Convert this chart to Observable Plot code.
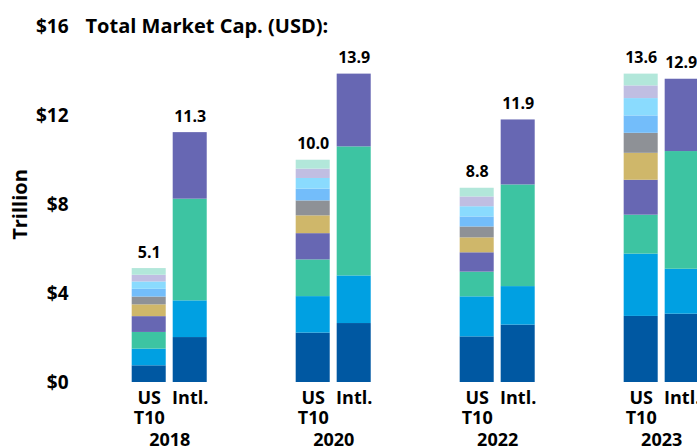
<!DOCTYPE html>
<html><head><meta charset="utf-8">
<script src="https://cdn.jsdelivr.net/npm/d3@7"></script>
<script src="https://cdn.jsdelivr.net/npm/@observablehq/plot@0.6"></script>
<style>html,body{margin:0;padding:0;background:#fff;overflow:hidden}</style>
</head><body><div id="chart"></div>
<script>
// ---- data ----
const years = ["2018", "2020", "2022", "2023"];
const barTypes = ["US T10", "Intl."];
const barTypeLabels = ["US\nT10", "Intl."];
const segments = ["S1", "S2", "S3", "S4", "S5", "S6", "S7", "S8", "S9", "S10"];
const segmentColors = ["#0058A2", "#00A0E2", "#3DC4A2", "#6767B3", "#CFB76A", "#8E9196", "#73BDFA", "#8ADBFE", "#C0BEE2", "#B2E7DA"];

// US top-10 segments (bottom to top), trillion USD
const us2018 = [0.75, 0.75, 0.75, 0.71, 0.53, 0.35, 0.35, 0.33, 0.30, 0.30];
const us2020 = [2.22, 1.64, 1.65, 1.18, 0.80, 0.67, 0.53, 0.48, 0.42, 0.40];
const us2022 = [2.05, 1.80, 1.11, 0.87, 0.67, 0.49, 0.45, 0.46, 0.44, 0.39];
const us2023 = [2.97, 2.80, 1.75, 1.57, 1.21, 0.90, 0.78, 0.78, 0.57, 0.53];
// International segments (bottom to top)
const intl2018 = [2.02, 1.65, 4.57, 2.99];
const intl2020 = [2.65, 2.14, 5.80, 3.27];
const intl2022 = [2.58, 1.73, 4.57, 2.92];
const intl2023 = [3.07, 2.02, 5.29, 3.25];

const usTotalLabels = ["5.1", "10.0", "8.8", "13.6"];
const intlTotalLabels = ["11.3", "13.9", "11.9", "12.9"];
const yTicks = [0, 4, 8, 12, 16];
const title = "Total Market Cap. (USD):";
const yLabel = "Trillion";

// ---- build tables ----
const usByYear = [us2018, us2020, us2022, us2023];
const intlByYear = [intl2018, intl2020, intl2022, intl2023];
const keyOf = (yr, t) => `${yr}|${t}`;
const rows = [];
years.forEach((yr, i) => {
  usByYear[i].forEach((v, j) => rows.push({key: keyOf(yr, barTypes[0]), seg: segments[j], value: v}));
  intlByYear[i].forEach((v, j) => rows.push({key: keyOf(yr, barTypes[1]), seg: segments[j], value: v}));
});
const xDomain = years.flatMap((yr, i) => i < years.length - 1
  ? [keyOf(yr, barTypes[0]), keyOf(yr, barTypes[1]), keyOf(yr, "gap1"), keyOf(yr, "gap2")]
  : [keyOf(yr, barTypes[0]), keyOf(yr, barTypes[1])]);
const totals = years.flatMap((yr, i) => [
  {key: keyOf(yr, barTypes[0]), total: d3.sum(usByYear[i]), label: usTotalLabels[i]},
  {key: keyOf(yr, barTypes[1]), total: d3.sum(intlByYear[i]), label: intlTotalLabels[i]}
]);
const lastTotal = totals[totals.length - 1];
const otherTotals = totals.slice(0, -1);

const FONT = "'Open Sans', sans-serif";
const labelStyle = {fontSize: 18, fontWeight: 700};
const valueStyle = {fontSize: 16, fontWeight: 700};
const chart = Plot.plot({
  width: 697,
  height: 446,
  marginTop: 26,
  marginBottom: 64,
  marginLeft: 75,
  marginRight: 0,
  style: {fontFamily: FONT, fontSize: "18px", color: "#000", background: "#fff"},
  x: {type: "band", domain: xDomain, range: [131.7, 698.7], paddingInner: 0.17, paddingOuter: 0, round: false},
  y: {domain: [0, 16]},
  color: {type: "ordinal", domain: segments, range: segmentColors},
  marks: [
    Plot.barY(rows, {x: "key", y: "value", fill: "seg"}),
    Plot.axisY({ticks: yTicks, tickFormat: d => "$" + d, tickSize: 0, tickPadding: 7, fontSize: 19, fontWeight: 700, label: null}),
    Plot.axisX({tickSize: 0, tickPadding: 7, ...labelStyle, label: null, lineHeight: 1.13,
      tickFormat: k => { const i = barTypes.indexOf(k.split("|")[1]); return i < 0 ? "" : barTypeLabels[i]; }}),
    Plot.text(otherTotals, {x: "key", y: "total", text: "label", dy: -11, lineAnchor: "bottom", ...valueStyle}),
    Plot.text([lastTotal], {x: "key", y: "total", text: "label", dx: -17, dy: -11, textAnchor: "start", lineAnchor: "bottom", ...valueStyle}),
    Plot.text(years, {x: d => keyOf(d, barTypes[0]), frameAnchor: "bottom", dx: 20.5, dy: 51, textAnchor: "middle", lineAnchor: "top", text: d => d, ...labelStyle}),
    Plot.text([title], {frameAnchor: "top-left", dx: 10, text: d => d, textAnchor: "start", lineAnchor: "middle", fontSize: 20, fontWeight: 700}),
    Plot.text([yLabel], {frameAnchor: "left", dx: -55, rotate: -90, text: d => d, textAnchor: "middle", lineAnchor: "middle", fontSize: 20, fontWeight: 700})
  ]
});
document.getElementById("chart").appendChild(chart);
</script>
</body></html>
